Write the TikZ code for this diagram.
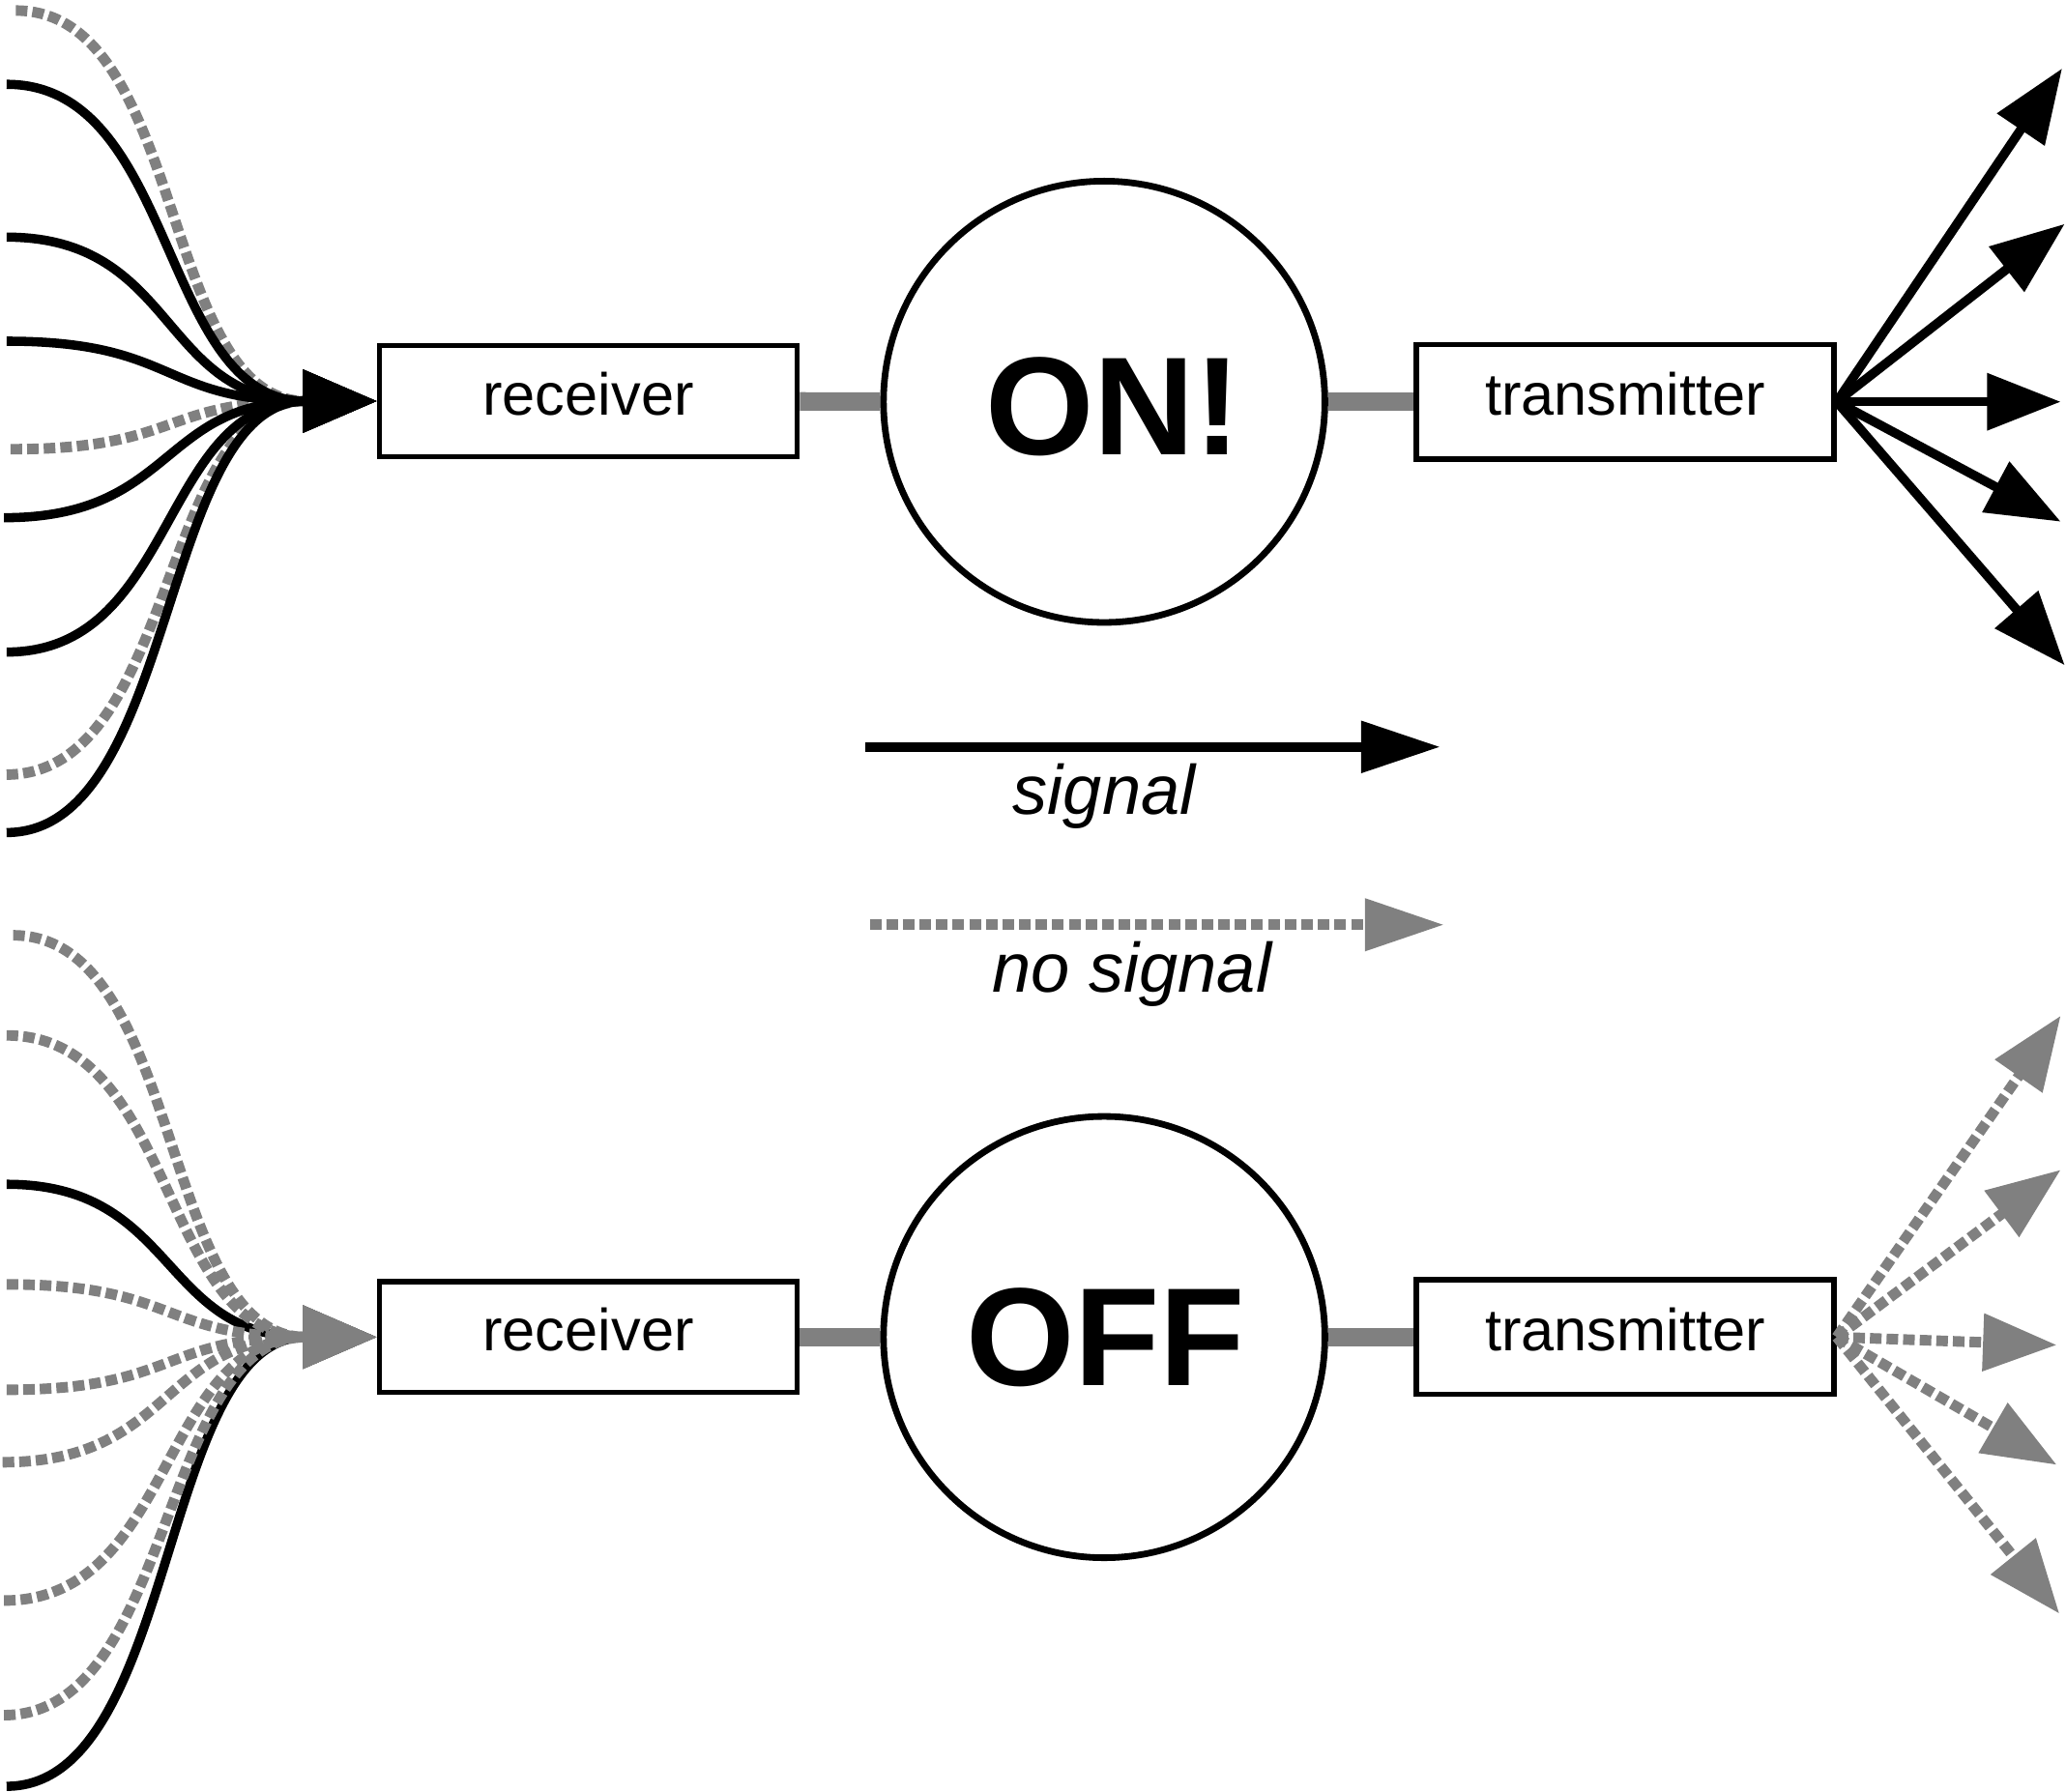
\documentclass[tikz,border=0pt]{standalone}
\usepackage{fontspec}
\setmainfont{Liberation Sans}
\usetikzlibrary{arrows.meta}
\definecolor{sgray}{HTML}{808080}
\begin{document}
\begin{tikzpicture}[x=1pt,y=-1pt,
  sig/.style={line width=7pt,black},
  nosig/.style={line width=8pt,sgray,dash pattern=on 8.8pt off 3.8pt},
  inhead/.style={-{Triangle[length=56pt,width=46pt]}},
  outhead/.style={-{Triangle[length=56pt,width=42pt]}},
  leghead/.style={-{Triangle[length=60pt,width=38pt]}},
  box/.style={draw,line width=4pt,minimum width=317pt,minimum height=84pt,inner sep=0pt,
    text height=33pt,text depth=12pt,font=\fontsize{45}{50}\selectfont},
  state/.style={draw,circle,line width=5pt,minimum size=335pt,inner sep=0pt},
  big/.style={font=\fontsize{106}{110}\selectfont\bfseries,anchor=base,inner sep=0pt},
  link/.style={line width=14pt,sgray},
  legend/.style={font=\fontsize{53}{56}\selectfont\itshape,anchor=base,inner sep=0pt}
]
\useasboundingbox[fill=white] (0,0) rectangle (1568,1360);

% ---------- top row ----------
\node[box] (rec1) at (446.5,304.5) {receiver};
\node[state] (on) at (838,305) {};
\node[big] (ontext) at (845,345) {ON!};
\node[box,minimum height=87pt] (tr1) at (1233.5,305) {transmitter};
\draw[link] (rec1) -- (on);
\draw[link] (on) -- (tr1);

\coordinate (t1) at (12,8);
\coordinate (t2) at (5,64);
\coordinate (t3) at (5,180);
\coordinate (t4) at (5,259);
\coordinate (t5) at (8,341);
\coordinate (t6) at (3,393);
\coordinate (t7) at (5,495);
\coordinate (t8) at (5,588);
\coordinate (t9) at (5,632);
\foreach \s in {t1,t5,t8}
  \draw[nosig,inhead] (\s) .. controls +(130,0) and +(-165,0) .. (rec1.west);
\foreach \s in {t2,t3,t4,t6,t7,t9}
  \draw[sig,inhead] (\s) .. controls +(130,0) and +(-165,0) .. (rec1.west);

\coordinate (o1) at (1565,52);
\coordinate (o2) at (1567,170);
\coordinate (o3) at (1564,305);
\coordinate (o4) at (1564,396);
\coordinate (o5) at (1567,505);
\foreach \t in {o1,o2,o3,o4,o5}
  \draw[sig,outhead] (tr1.east) -- (\t);

% ---------- legend ----------
\coordinate (sigA) at (657,567);
\coordinate (sigB) at (1093,567);
\draw[sig,leghead] (sigA) -- (sigB);
\node[legend] (siglab) at (838,618) {signal};
\coordinate (nsA) at (660,702);
\coordinate (nsB) at (1096,702);
\draw[nosig,leghead] (nsA) -- (nsB);
\node[legend] (nslab) at (859,753) {no signal};

% ---------- bottom row ----------
\node[box] (rec2) at (446.5,1015) {receiver};
\node[state] (off) at (838,1015) {};
\node[big] (offtext) at (839,1052) {OFF};
\node[box,minimum height=87pt] (tr2) at (1233.5,1015) {transmitter};
\draw[link] (rec2) -- (off);
\draw[link] (off) -- (tr2);

\coordinate (b1) at (10,710);
\coordinate (b2) at (5,786);
\coordinate (b3) at (5,899);
\coordinate (b4) at (5,975);
\coordinate (b5) at (5,1055);
\coordinate (b6) at (2,1110);
\coordinate (b7) at (3,1215);
\coordinate (b8) at (3,1302);
\coordinate (b9) at (5,1356);
\foreach \s in {b3,b9}
  \draw[sig,inhead] (\s) .. controls +(130,0) and +(-165,0) .. (rec2.west);
\foreach \s in {b1,b2,b4,b5,b6,b7,b8}
  \draw[nosig,inhead] (\s) .. controls +(130,0) and +(-165,0) .. (rec2.west);

\coordinate (p1) at (1564,771);
\coordinate (p2) at (1564,888);
\coordinate (p3) at (1561,1021);
\coordinate (p4) at (1561,1112);
\coordinate (p5) at (1563,1225);
\foreach \t in {p1,p2,p3,p4,p5}
  \draw[nosig,outhead] (tr2.east) -- (\t);
\end{tikzpicture}
\end{document}
